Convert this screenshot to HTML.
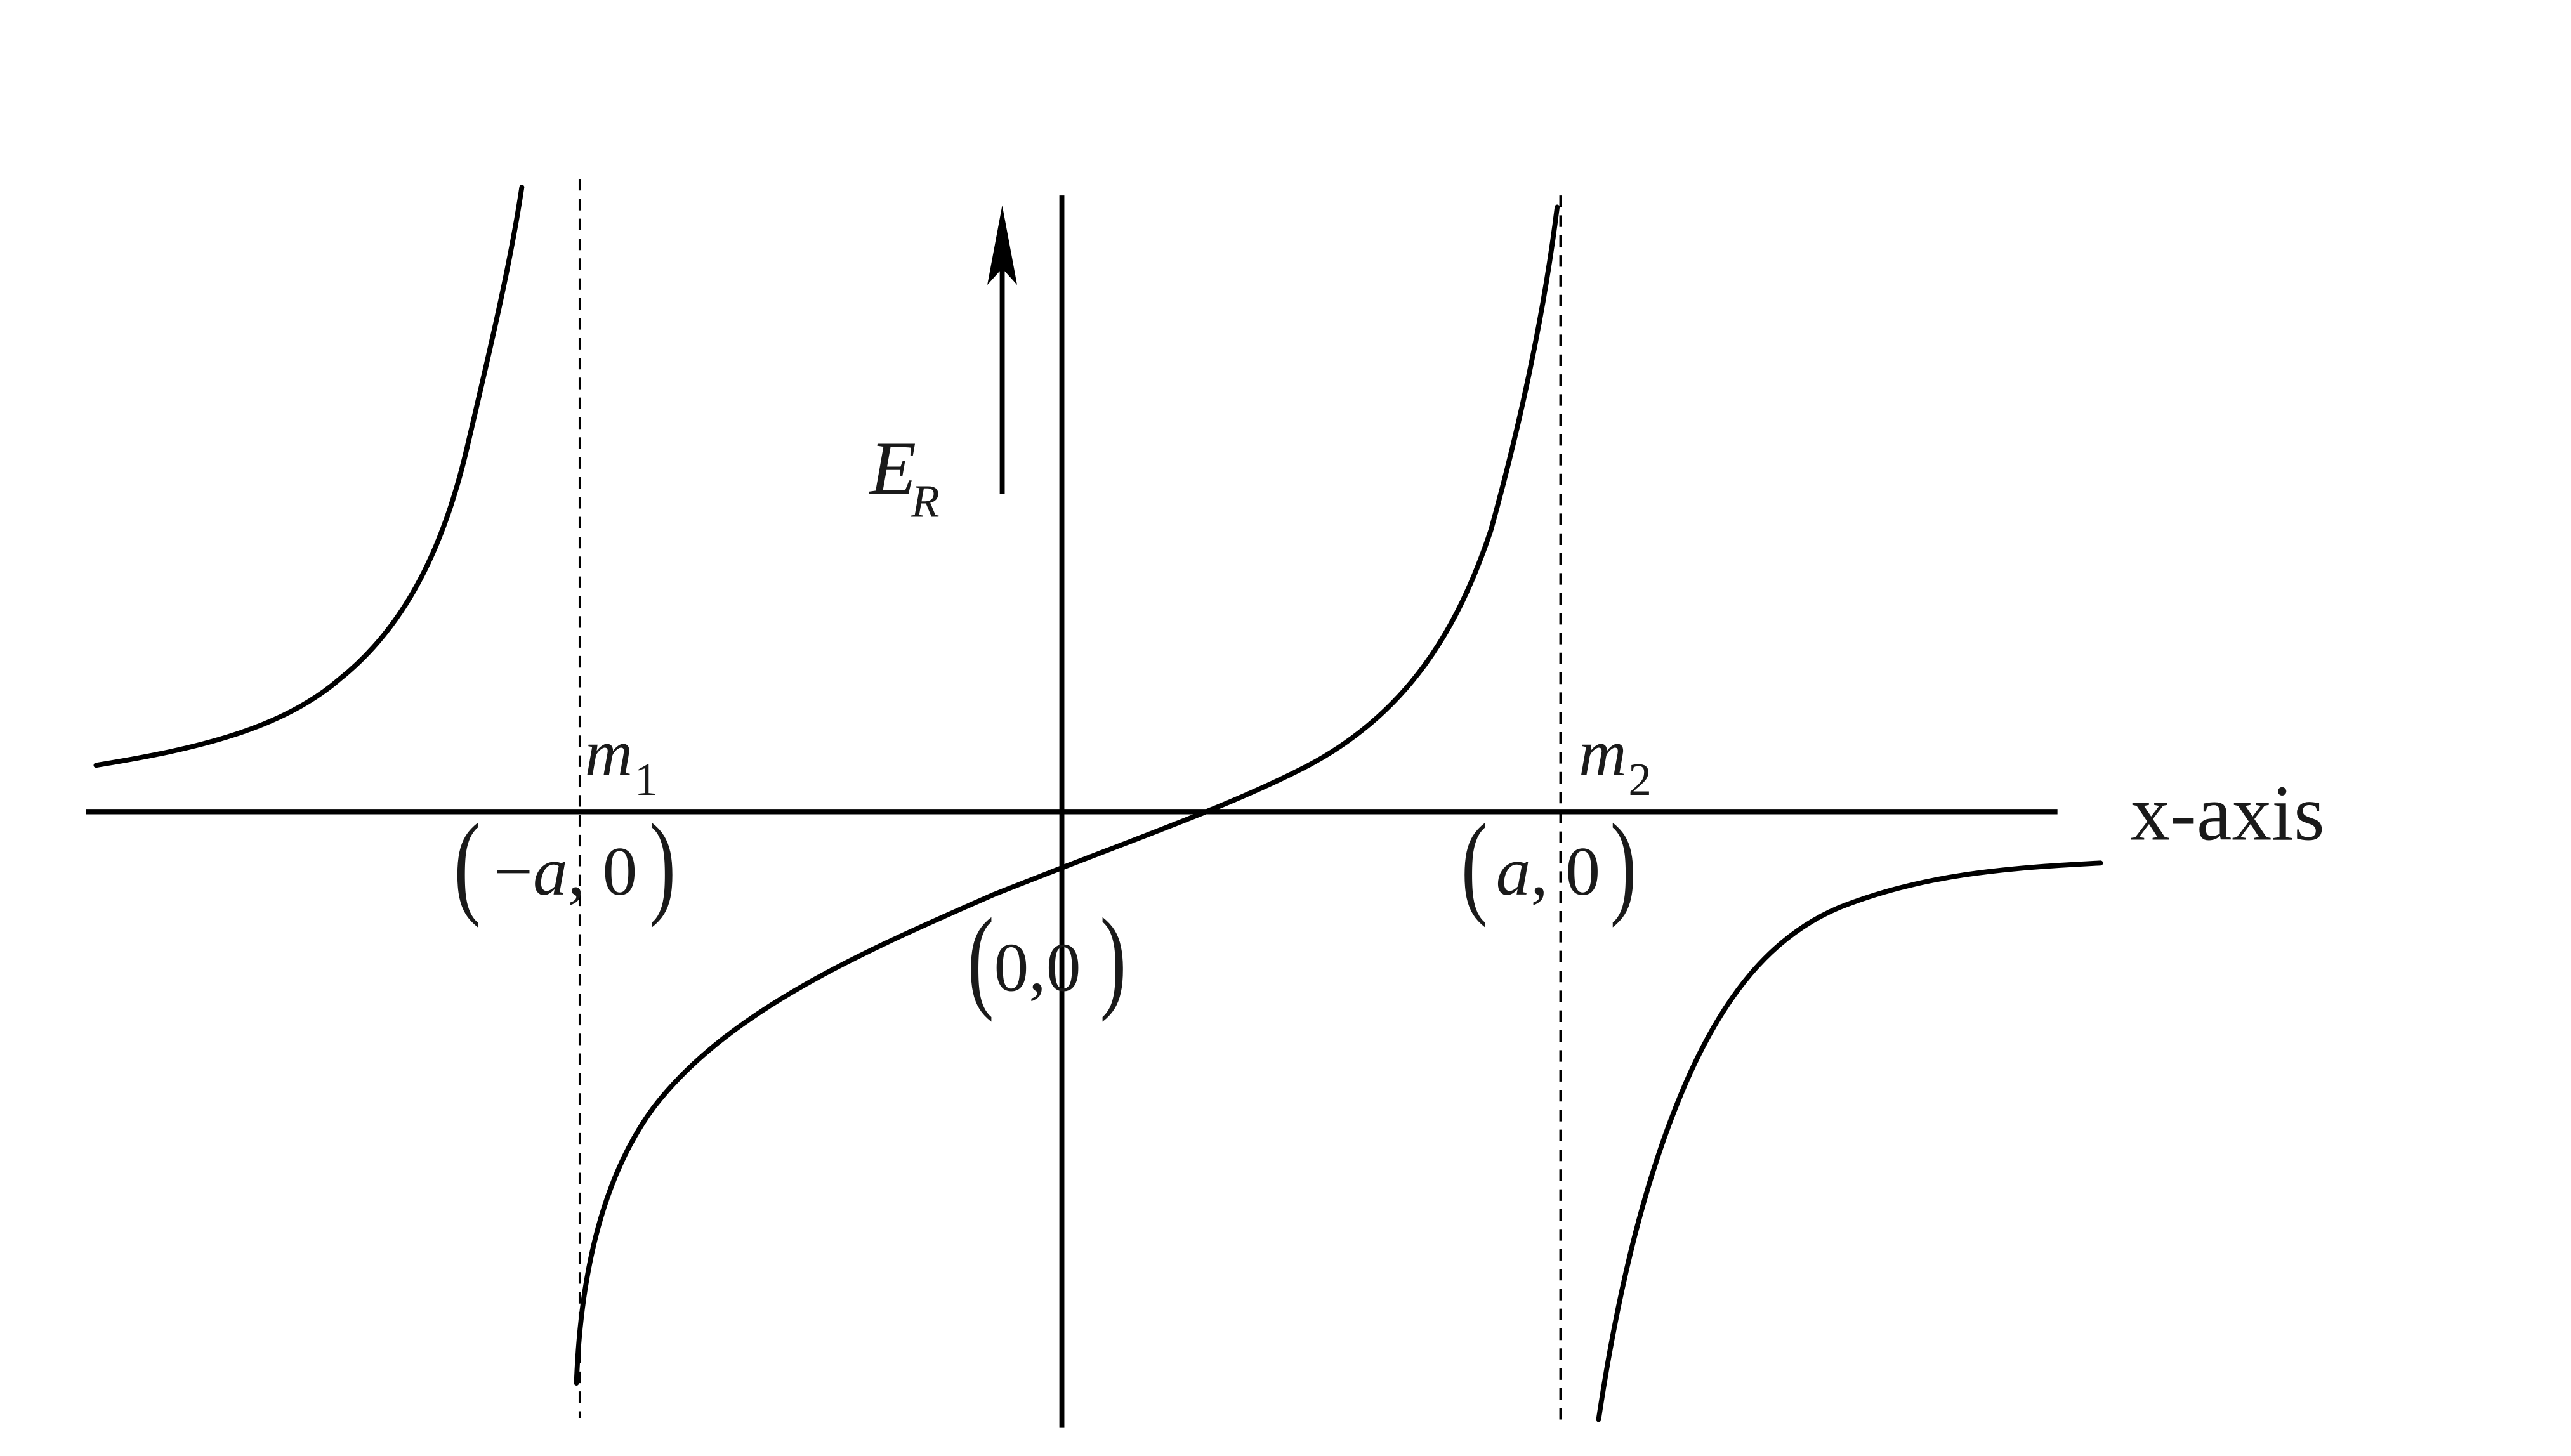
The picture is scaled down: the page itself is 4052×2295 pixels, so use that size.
<!DOCTYPE html>
<html><head><meta charset="utf-8"><style>
html,body{margin:0;padding:0;background:#fff;}
svg{display:block;}
text{font-family:"Liberation Serif",serif;fill:#1a1a1a;}
</style></head><body>
<svg width="4052" height="2295" viewBox="0 0 1552 879" preserveAspectRatio="none" xmlns="http://www.w3.org/2000/svg">
<rect width="1552" height="879" fill="#fff"/>
<line x1="52" y1="490" x2="1242" y2="490" stroke="#000" stroke-width="3.2"/>
<line x1="641" y1="118" x2="641" y2="862" stroke="#000" stroke-width="3"/>
<line x1="350" y1="108" x2="350" y2="856" stroke="#000" stroke-width="1.4" stroke-dasharray="7,5"/>
<line x1="942" y1="118" x2="942" y2="862" stroke="#000" stroke-width="1.4" stroke-dasharray="7,5"/>
<line x1="605" y1="298" x2="605" y2="160" stroke="#000" stroke-width="3"/>
<path d="M605,124 L614,172 L605,162 L596,172 Z" fill="#000"/>
<g fill="none" stroke="#000" stroke-width="3" stroke-linecap="round">
<path d="M58,462 C120,452 170,440 205,410 C245,378 268,330 282,270 C296,210 308,160 315,113"/>
<path d="M348,835 C350,780 360,715 395,668 C440,610 520,575 600,540 C680,508 740,488 790,462 C850,430 880,380 900,320 C918,255 932,190 940,125"/>
<path d="M965,857 C975,790 990,720 1015,660 C1040,600 1070,565 1110,548 C1160,528 1210,524 1268,521"/>
</g>
<text x="525" y="298" font-size="46" font-style="italic">E</text>
<text x="550" y="312" font-size="28" font-style="italic">R</text>
<text x="353" y="468" font-size="40" font-style="italic">m</text>
<text x="383" y="480" font-size="28">1</text>
<text x="953" y="468" font-size="40" font-style="italic">m</text>
<text x="983" y="480" font-size="28">2</text>
<text x="1286" y="507" font-size="48">x-axis</text>
<g transform="translate(0,545) scale(1,1.45)"><text x="274" y="0" font-size="48">(</text><text x="392" y="0" font-size="48">)</text></g>
<text x="298" y="540" font-size="42">−<tspan font-style="italic">a</tspan>, 0</text>
<g transform="translate(0,545) scale(1,1.45)"><text x="882" y="0" font-size="48">(</text><text x="972" y="0" font-size="48">)</text></g>
<text x="903" y="540" font-size="42"><tspan font-style="italic">a</tspan>, 0</text>
<g transform="translate(0,602) scale(1,1.45)"><text x="584" y="0" font-size="48">(</text><text x="664" y="0" font-size="48">)</text></g>
<text x="600" y="598" font-size="42">0,0</text>
</svg>
</body></html>
